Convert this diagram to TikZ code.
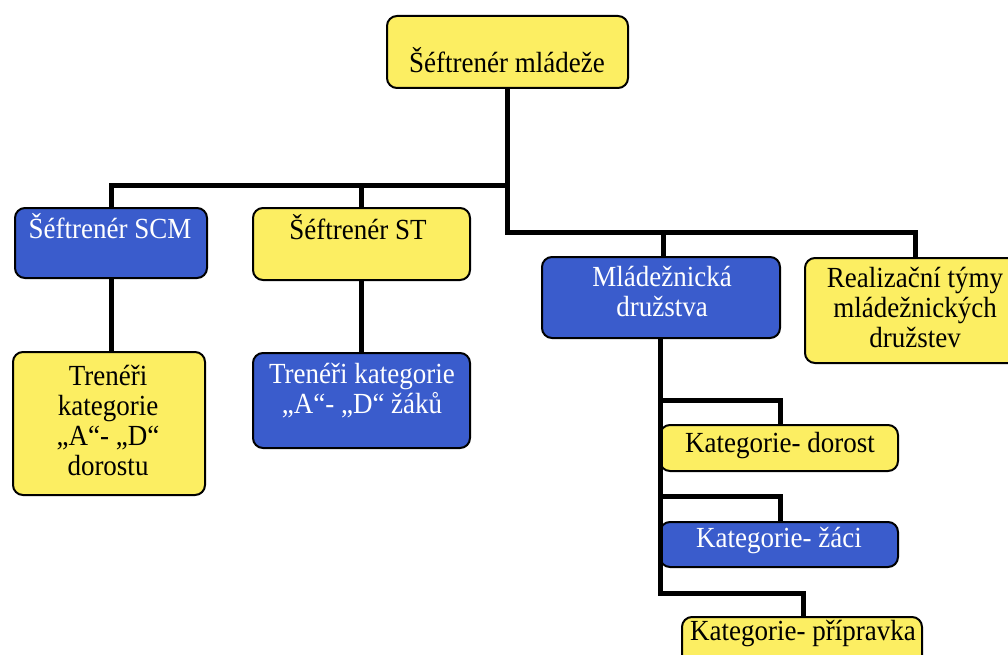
\documentclass[tikz,border=0pt]{standalone}
\usepackage{fontspec}
\usepackage{graphicx}
\setmainfont{Liberation Serif}
\definecolor{boxyellow}{RGB}{252,238,98}
\definecolor{boxblue}{RGB}{58,92,204}
% label text: centred lines, baseline on the first line, slightly tall glyphs
\newcommand{\lbltext}[1]{\scalebox{1}[1.08]{\begin{tabular}[t]{@{}c@{}}#1\end{tabular}}}
\tikzset{
  box/.style={draw=black, line width=2pt, rounded corners=10pt, inner sep=0pt},
  ybox/.style={box, fill=boxyellow},
  bbox/.style={box, fill=boxblue},
  ytext/.style={text=black, font=\fontsize{27}{28}\selectfont, inner sep=0pt, anchor=base},
  btext/.style={ytext, text=white},
  conn/.style={draw=black, line width=5pt, line cap=butt, line join=miter},
}
\begin{document}
\begin{tikzpicture}[x=1pt, y=-1pt]
\useasboundingbox (0,0) rectangle (1008,655);
\fill[white] (0,0) rectangle (1008,655);

% levels of the connector bus
\coordinate (busA) at (0,185);
\coordinate (busB) at (0,232);
\coordinate (busC) at (0,400);
\coordinate (busD) at (0,496);
\coordinate (busE) at (0,593);
\coordinate (realIn) at (915,258);

% boxes
\node[ybox, minimum width=241, minimum height=72] (top) at (507.5,52) {};
\node[bbox, minimum width=192, minimum height=70] (scm) at (111,243) {};
\node[ybox, minimum width=217, minimum height=72] (st) at (361.5,244) {};
\node[bbox, minimum width=238, minimum height=81] (mlad) at (661,297.5) {};
\node[ybox, minimum width=215, minimum height=105] (real) at (912.5,310.5) {};
\node[ybox, minimum width=192, minimum height=143] (tdor) at (109,423.5) {};
\node[bbox, minimum width=217, minimum height=95] (tzak) at (361.5,400.5) {};
\node[ybox, minimum width=238, minimum height=46] (dor) at (779,448) {};
\node[bbox, minimum width=238, minimum height=45] (zak) at (779,544.5) {};
\node[ybox, minimum width=240, minimum height=60] (prip) at (802,647) {};

% connectors
\draw[conn] (top.south) -- (top.south |- busB) -| (realIn);
\draw[conn] (scm.north) |- (top.south |- busA);
\draw[conn] (st.north) -- (st.north |- busA);
\draw[conn] ([xshift=2]mlad.north) -- ([xshift=2]mlad.north |- busB);
\draw[conn] (scm.south) -- (scm.south |- tdor.north);
\draw[conn] (st.south) -- (tzak.north);
\draw[conn] ([xshift=-1]mlad.south) -- ([xshift=-1]mlad.south |- busE) -| ([xshift=1]prip.north);
\draw[conn] ([xshift=-1]mlad.south |- busC) -| ([xshift=1]dor.north);
\draw[conn] ([xshift=-1]mlad.south |- busD) -| ([xshift=1]zak.north);

% labels (positioned on the baseline of their first line)
\node[ytext] (ltop) at (507,73) {\lbltext{Šéftrenér mládeže}};
\node[btext] (lscm) at (110,238) {\lbltext{Šéftrenér SCM}};
\node[ytext] (lst) at (358,239) {\lbltext{Šéftrenér ST}};
\node[btext] (lmlad) at (662,286) {\lbltext{Mládežnická\\družstva}};
\node[ytext] (lreal) at (915,287) {\lbltext{Realizační týmy\\mládežnických\\družstev}};
\node[ytext] (ltdor) at (108,385) {\lbltext{Trenéři\\kategorie\\„A“- „D“\\dorostu}};
\node[btext] (ltzak) at (362,383) {\lbltext{Trenéři kategorie\\„A“- „D“ žáků}};
\node[ytext] (ldor) at (780,452) {\lbltext{Kategorie- dorost}};
\node[btext] (lzak) at (779,547) {\lbltext{Kategorie- žáci}};
\node[ytext] (lprip) at (803,640) {\lbltext{Kategorie- přípravka}};
\end{tikzpicture}
\end{document}
